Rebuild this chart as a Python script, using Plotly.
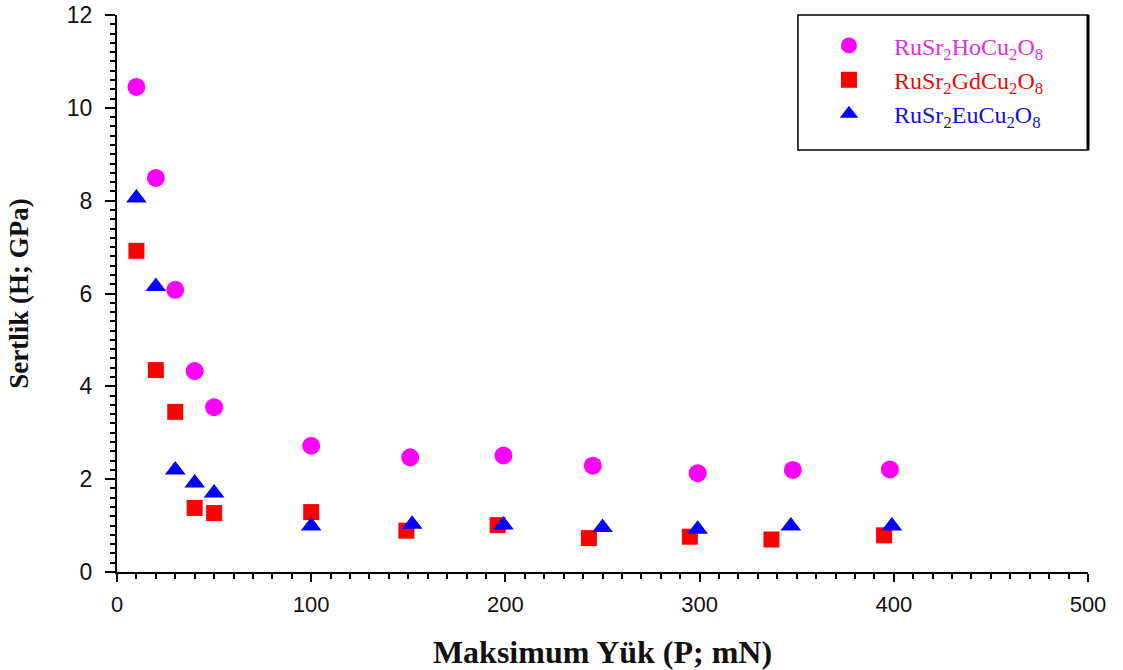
import plotly.graph_objects as go

# Data
ho_x = [10, 20, 30, 40, 50, 100, 151, 199, 245, 299, 348, 398]
ho_y = [10.45, 8.49, 6.08, 4.33, 3.55, 2.72, 2.47, 2.51, 2.29, 2.13, 2.20, 2.21]

gd_x = [10, 20, 30, 40, 50, 100, 149, 196, 243, 295, 337, 395]
gd_y = [6.92, 4.35, 3.45, 1.38, 1.27, 1.29, 0.89, 1.01, 0.73, 0.76, 0.70, 0.79]

eu_x = [10, 20, 30, 40, 50, 100, 152, 199, 250, 299, 347, 399]
eu_y = [8.06, 6.15, 2.20, 1.92, 1.70, 0.99, 1.03, 1.01, 0.96, 0.92, 0.99, 0.99]

names = ["RuSr<sub>2</sub>HoCu<sub>2</sub>O<sub>8</sub>",
         "RuSr<sub>2</sub>GdCu<sub>2</sub>O<sub>8</sub>",
         "RuSr<sub>2</sub>EuCu<sub>2</sub>O<sub>8</sub>"]
colors = ["#FF00FF", "#FF0000", "#0000FF"]
text_colors = ["#E030E0", "#E01010", "#1010E0"]
symbols = ["circle", "square", "triangle-up"]
sizes = [18, 16, 18]

fig = go.Figure()
for i, (xs, ys) in enumerate([(ho_x, ho_y), (gd_x, gd_y), (eu_x, eu_y)]):
    fig.add_trace(go.Scatter(
        x=xs, y=ys, mode="markers",
        name=f'<span style="color:{text_colors[i]}">{names[i]}</span>',
        legendgroup=f"g{i}",
        marker=dict(symbol=symbols[i], size=sizes[i], color=colors[i],
                    line=dict(width=0)),
    ))

fig.update_layout(
    width=1123, height=670,
    margin=dict(l=117, r=35, t=15, b=98),
    plot_bgcolor="white", paper_bgcolor="white",
    showlegend=True,
    legend=dict(
        x=0.7075, y=0.985, xanchor="left", yanchor="top",
        bgcolor="rgba(0,0,0,0)", borderwidth=0,
        font=dict(family="Liberation Serif, Times New Roman", size=24),
        itemwidth=80, tracegroupgap=0,
    ),
    xaxis=dict(
        range=[0, 500], dtick=100, tick0=0, automargin=False,
        showgrid=False, zeroline=False,
        showline=True, linecolor="black", linewidth=2,
        ticks="outside", ticklen=8, tickwidth=2, tickcolor="black",
        minor=dict(dtick=10, ticks="outside", ticklen=5, tickwidth=1.5, tickcolor="black"),
        tickfont=dict(family="Liberation Sans, Arial", size=22, color="#111"),
        ticklabelstandoff=4,
        title=dict(text="<b>Maksimum Yük (P; mN)</b>", standoff=26,
                   font=dict(family="Liberation Serif, Times New Roman", size=32, color="#111")),
    ),
    yaxis=dict(
        range=[0, 12], dtick=2, tick0=0, automargin=False,
        showgrid=False, zeroline=False,
        showline=True, linecolor="black", linewidth=2,
        ticks="outside", ticklen=10, tickwidth=2, tickcolor="black",
        minor=dict(dtick=0.2, ticks="outside", ticklen=5, tickwidth=1.5, tickcolor="black"),
        tickfont=dict(family="Liberation Sans, Arial", size=23, color="#111"),
        ticklabelstandoff=8,
        title=dict(text="<b>Sertlik (H; GPa)</b>", standoff=30,
                   font=dict(family="Liberation Serif, Times New Roman", size=27, color="#111")),
    ),
    shapes=[
        dict(type="rect", xref="paper", yref="paper",
             x0=0.7013, x1=1.0, y0=0.7576, y1=1.0,
             line=dict(color="black", width=1.5), fillcolor="rgba(0,0,0,0)"),
        dict(type="line", xref="paper", yref="paper",
             x0=1.0, x1=1.0, y0=0.7576, y1=1.0,
             line=dict(color="black", width=3)),
    ],
)

fig.write_html("out.html")
